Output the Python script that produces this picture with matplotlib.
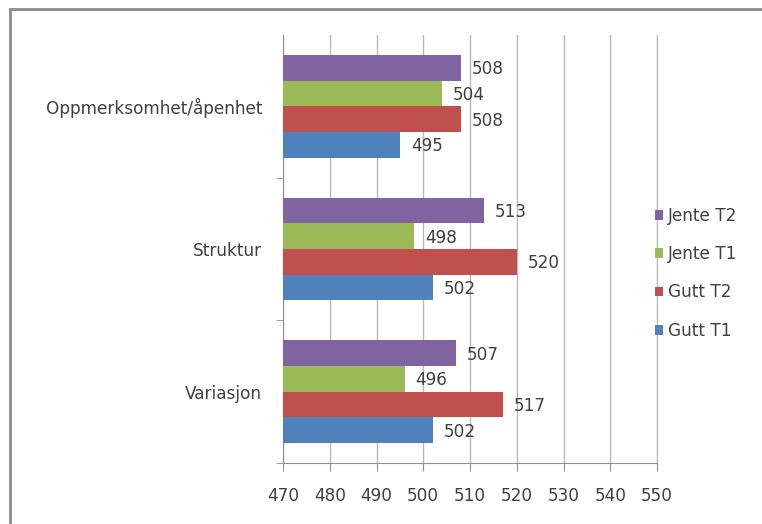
import matplotlib
matplotlib.use("Agg")
import matplotlib.pyplot as plt
from matplotlib.patches import Rectangle
import numpy as np

categories = ["Variasjon", "Struktur", "Oppmerksomhet/åpenhet"]
series_names = ["Gutt T1", "Gutt T2", "Jente T1", "Jente T2"]
gutt_t1 = [502, 502, 495]
gutt_t2 = [517, 520, 508]
jente_t1 = [496, 498, 504]
jente_t2 = [507, 513, 508]
x_ticks = [470, 480, 490, 500, 510, 520, 530, 540, 550]

colors = ["#4F81BD", "#C0504D", "#9BBB59", "#8064A2"]
text_color = "#404040"
fs = 12.2

fig = plt.figure(figsize=(7.62, 5.24), dpi=100)
ax = fig.add_axes([283 / 762, 1 - 463 / 524, (657 - 283) / 762, (463 - 35) / 524])

y = np.arange(len(categories))
bar_h = 0.18
offsets = [-0.27, -0.09, 0.09, 0.27]
series = [gutt_t1, gutt_t2, jente_t1, jente_t2]
base = x_ticks[0]

handles = []
for vals, off, col, name in zip(series, offsets, colors, series_names):
    vals = np.array(vals)
    bars = ax.barh(y + off, vals - base, left=base, height=bar_h, color=col,
                   edgecolor="none", label=name, zorder=3)
    handles.append(bars)
    for yy, v in zip(y + off, vals):
        ax.annotate(f"{v}", xy=(v, yy), xytext=(8, -1), textcoords="offset points",
                    va="center", ha="left", fontsize=fs, color=text_color, zorder=4)

ax.set_xlim(x_ticks[0], x_ticks[-1])
ax.set_ylim(-0.5, len(categories) - 0.5)
ax.set_xticks(x_ticks)
ax.set_xticklabels([str(t) for t in x_ticks], fontsize=fs, color=text_color)
ax.set_yticks(y)
ax.set_yticklabels(categories, fontsize=fs, color=text_color)
ax.set_yticks(np.arange(-0.5, len(categories) - 1, 1.0), minor=True)
ax.tick_params(axis="y", which="major", length=0, pad=15)
ax.tick_params(axis="y", which="minor", length=5, color="#909090", direction="out")
ax.tick_params(axis="x", length=6, color="#909090", direction="out", pad=11)

ax.grid(axis="x", color="#b8b8b8", linewidth=1.0, zorder=0)
ax.set_axisbelow(True)
ax.spines["top"].set_visible(False)
ax.spines["right"].set_color("#b8b8b8")
ax.spines["left"].set_color("#909090")
ax.spines["bottom"].set_color("#909090")

leg_handles = handles[::-1]
fig.legend(leg_handles, [h.get_label() for h in leg_handles],
           loc="upper left", bbox_to_anchor=(648 / 762, 1 - 200 / 524),
           frameon=False, fontsize=fs, labelcolor=text_color,
           handlelength=0.5, handleheight=0.5, handletextpad=0.3,
           labelspacing=1.2, borderaxespad=0)

# outer chart frame
fig.patches.append(Rectangle((10 / 762, -0.05), 1.1, 1 - 9 / 524 + 0.05,
                             transform=fig.transFigure, fill=False,
                             edgecolor="#8c8c8c", linewidth=2.0))

fig.savefig("out.png", dpi=100)
